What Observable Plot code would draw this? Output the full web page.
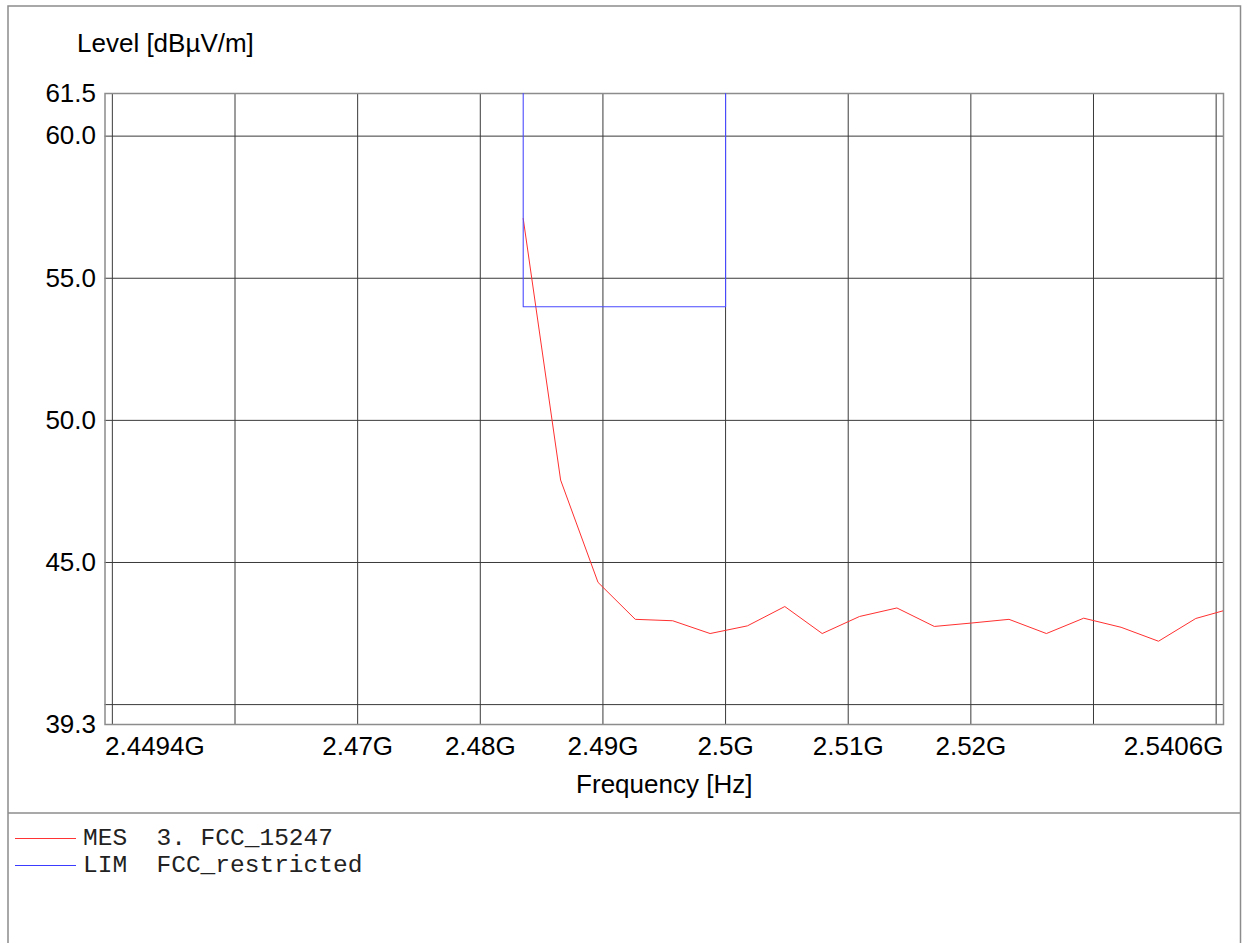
<!DOCTYPE html>
<html>
<head>
<meta charset="utf-8">
<script src="https://cdn.jsdelivr.net/npm/d3@7"></script>
<script src="https://cdn.jsdelivr.net/npm/@observablehq/plot@0.6"></script>
<style>
  html, body { margin: 0; padding: 0; background: #fff; }
  #chart svg { display: block; }
</style>
</head>
<body>
<div id="chart"></div>
<script>
// ---- data (frequencies in GHz, levels in dBµV/m) ----
const mesFreq = [2.4835, 2.48655, 2.4896, 2.49264, 2.49569, 2.49874, 2.50178, 2.50483, 2.50788, 2.51092,
                 2.51397, 2.51702, 2.52006, 2.52311, 2.52616, 2.5292, 2.53225, 2.5353, 2.53834, 2.54139];
const mesLevel = [57.1, 47.9, 44.3, 43.0, 42.95, 42.5, 42.77, 43.45, 42.5, 43.1,
                  43.4, 42.75, 42.87, 43.0, 42.5, 43.04, 42.72, 42.23, 43.03, 43.4];
const limFreq = [2.4835, 2.4835, 2.5, 2.5];
const limLevel = [61.5, 54.0, 54.0, 61.5];
const xDomain = [2.4494, 2.5406];
const yDomain = [39.3, 61.5];
const xGrid = [2.45, 2.46, 2.47, 2.48, 2.49, 2.5, 2.51, 2.52, 2.53, 2.54];
const yGrid = [40, 45, 50, 55, 60];
const xTickLabels = [2.47, 2.48, 2.49, 2.5, 2.51, 2.52];
const xTickText = ["2.47G", "2.48G", "2.49G", "2.5G", "2.51G", "2.52G"];
const xEndLabels = ["2.4494G", "2.5406G"];
const yTicks = [61.5, 60, 55, 50, 45, 39.3];
const yTickText = ["61.5", "60.0", "55.0", "50.0", "45.0", "39.3"];
const yTitle = "Level [dBµV/m]";
const xTitle = "Frequency [Hz]";
const legendItems = ["MES  3. FCC_15247", "LIM  FCC_restricted"];
const legendColors = ["#ff3333", "#3b3bff"];

const mes = mesFreq.map((f, i) => ({f, v: mesLevel[i]}));
const lim = limFreq.map((f, i) => ({f, v: limLevel[i]}));
const xTicksData = xTickLabels.map((f, i) => ({f, t: xTickText[i]}));
const yTicksData = yTicks.map((v, i) => ({v, t: yTickText[i]}));

const W = 1242, H = 943;
const sans = "'Liberation Sans', Arial, sans-serif";
const fs = 26;

const plot = Plot.plot({
  width: W,
  height: H,
  marginLeft: 104.5,
  marginRight: 19,
  marginTop: 93,
  marginBottom: 219,
  style: {fontFamily: sans, background: "#fff"},
  x: {domain: xDomain, axis: null},
  y: {domain: yDomain, axis: null},
  marks: [
    Plot.ruleX(xGrid, {stroke: "#3a3a3a", strokeWidth: 1}),
    Plot.ruleY(yGrid, {stroke: "#3a3a3a", strokeWidth: 1}),
    Plot.frame({stroke: "#8c8c8c", strokeWidth: 1.5}),
    Plot.line(mes, {x: "f", y: "v", stroke: "#ff3030", strokeWidth: 1, clip: true}),
    Plot.line(lim, {x: "f", y: "v", stroke: "#4a4aff", strokeWidth: 1.1, clip: true}),
    // y tick labels
    Plot.text(yTicksData, {x: xDomain[0], y: "v", text: "t", textAnchor: "end", dx: -9, fontSize: fs, fill: "#000", lineAnchor: "middle"}),
    // x tick labels
    Plot.text(xTicksData, {x: "f", y: yDomain[0], text: "t", textAnchor: "middle", dy: 22, fontSize: fs, fill: "#000", lineAnchor: "middle"}),
    Plot.text([xEndLabels[0]], {x: xDomain[0], y: yDomain[0], text: d => d, textAnchor: "start", dy: 22, fontSize: fs, fill: "#000", lineAnchor: "middle"}),
    Plot.text([xEndLabels[1]], {x: xDomain[1], y: yDomain[0], text: d => d, textAnchor: "end", dy: 22, fontSize: fs, fill: "#000", lineAnchor: "middle"}),
    // axis titles
    Plot.text([xTitle], {x: (xDomain[0] + xDomain[1]) / 2, y: yDomain[0], text: d => d, textAnchor: "middle", dy: 60, fontSize: fs, fill: "#000", lineAnchor: "middle"}),
    Plot.text([yTitle], {x: xDomain[0], y: yDomain[1], text: d => d, textAnchor: "start", dx: -28, dy: -50, fontSize: fs, fill: "#000", lineAnchor: "middle"})
  ]
});

// outer frame, divider and legend
const svg = d3.select(plot);
const g = svg.append("g").attr("text-anchor", "start");
g.append("rect").attr("x", 8).attr("y", 6).attr("width", 1232.5).attr("height", H + 10)
  .attr("fill", "none").attr("stroke", "#8c8c8c").attr("stroke-width", 1.5);
g.append("line").attr("x1", 8).attr("x2", 1240.5).attr("y1", 813).attr("y2", 813)
  .attr("stroke", "#8c8c8c").attr("stroke-width", 1.5);
legendItems.forEach((t, i) => {
  const y = 838 + i * 27;
  g.append("line").attr("x1", 15).attr("x2", 76).attr("y1", y + 0.5).attr("y2", y + 0.5)
    .attr("stroke", legendColors[i]).attr("stroke-width", 1);
  g.append("text").attr("x", 83).attr("y", y + 7)
    .attr("text-anchor", "start")
    .attr("font-family", "'Liberation Mono', 'Courier New', monospace")
    .attr("font-size", 24.5).attr("fill", "#222")
    .attr("xml:space", "preserve").style("white-space", "pre")
    .text(t);
});

document.getElementById("chart").appendChild(plot);
</script>
</body>
</html>
